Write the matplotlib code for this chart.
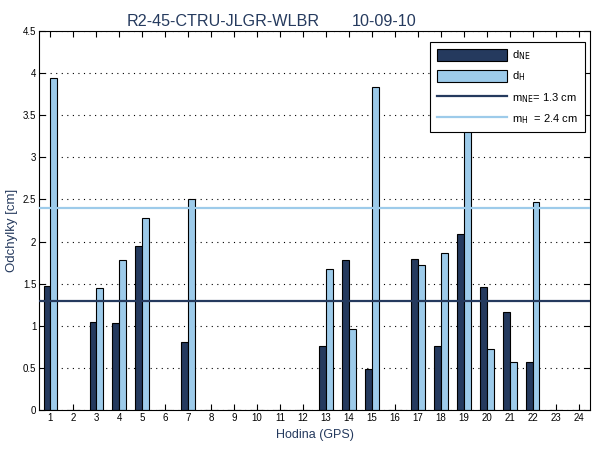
import numpy as np
import matplotlib
matplotlib.use("Agg")
import matplotlib.pyplot as plt
from matplotlib.patches import Patch
from matplotlib.lines import Line2D

plt.rcParams['font.family'] = ['Liberation Sans', 'DejaVu Sans']

hours = list(range(1, 25))
d_ne = [1.47, 0, 1.045, 1.03, 1.95, 0, 0.81, 0, 0, 0, 0, 0,
        0.76, 1.78, 0.49, 0, 1.79, 0.76, 2.09, 1.46, 1.16, 0.57, 0, 0]
d_h = [3.94, 0, 1.445, 1.78, 2.28, 0, 2.51, 0, 0, 0, 0, 0,
       1.68, 0.96, 3.83, 0, 1.72, 1.86, 3.70, 0.72, 0.57, 2.47, 0, 0]
m_ne = 1.3
m_h = 2.4
title_left = "R2-45-CTRU-JLGR-WLBR"
title_right = "10-09-10"

navy = '#253a5e'
light = '#9dcbea'

fig = plt.figure(figsize=(6, 4.5), dpi=100)
ax = fig.add_axes([39/600, 1-410/450, 551/600, 379/450])

x = np.array(hours, dtype=float)
w = 0.3
ax.bar(x - w/2, d_ne, width=w, color=navy, edgecolor='black', linewidth=0.8, zorder=2)
ax.bar(x + w/2, d_h, width=w, color=light, edgecolor='black', linewidth=0.8, zorder=2)
ax.axhline(m_ne, color=navy, linewidth=1.6, zorder=3)
ax.axhline(m_h, color=light, linewidth=1.6, zorder=3)

ax.set_xlim(0.5, 24.5)
ax.set_ylim(0, 4.5)
ax.set_xticks(hours)
ax.set_xticklabels([str(h) for h in hours])
yt = np.arange(0, 4.51, 0.5)
ax.set_yticks(yt)
ax.set_yticklabels(['0', '0.5', '1', '1.5', '2', '2.5', '3', '3.5', '4', '4.5'])
ax.tick_params(direction='in', top=True, right=True, labelsize=7, length=4, width=0.8, pad=2)
ax.yaxis.grid(True, linestyle=(0, (1, 4)), color='black', linewidth=0.8, zorder=0)
ax.set_axisbelow(True)
for s in ax.spines.values():
    s.set_linewidth(0.8)

ax.set_xlabel('Hodina (GPS)', color=navy, fontsize=9)
ax.xaxis.set_label_coords(0.5, -(435-410)/379)
ax.xaxis.label.set_va('center')
ax.set_ylabel('Odchylky [cm]', color=navy, fontsize=9.5)
ax.yaxis.set_label_coords(-(39-11.5)/551, (410-230)/379)
ax.yaxis.label.set_va('center')

fig.text(223.5/600, 1-26/450, title_left, ha='center', va='baseline', color=navy, fontsize=11.6)
fig.text(384/600, 1-26/450, title_right, ha='center', va='baseline', color=navy, fontsize=11.6)

handles = [Patch(facecolor=navy, edgecolor='black', linewidth=0.8),
           Patch(facecolor=light, edgecolor='black', linewidth=0.8),
           Line2D([], [], color=navy, linewidth=1.6),
           Line2D([], [], color=light, linewidth=1.6)]
labels = [r'd$_{\mathrm{NE}}$', r'd$_{\mathrm{H}}$',
          r'm$_{\mathrm{NE}}$= %.1f cm' % m_ne, r'm$_{\mathrm{H}}$  = %.1f cm' % m_h]
leg = ax.legend(handles, labels, loc='upper right', bbox_to_anchor=((585-39)/551, (410-42)/379),
                fontsize=8, fancybox=False, framealpha=1, edgecolor='black',
                handlelength=6.3, handleheight=1.25, borderpad=0.6, labelspacing=0.65,
                handletextpad=0.5, borderaxespad=0)
leg.get_frame().set_linewidth(0.8)
leg.set_zorder(5)

fig.savefig('out.png', dpi=100)
